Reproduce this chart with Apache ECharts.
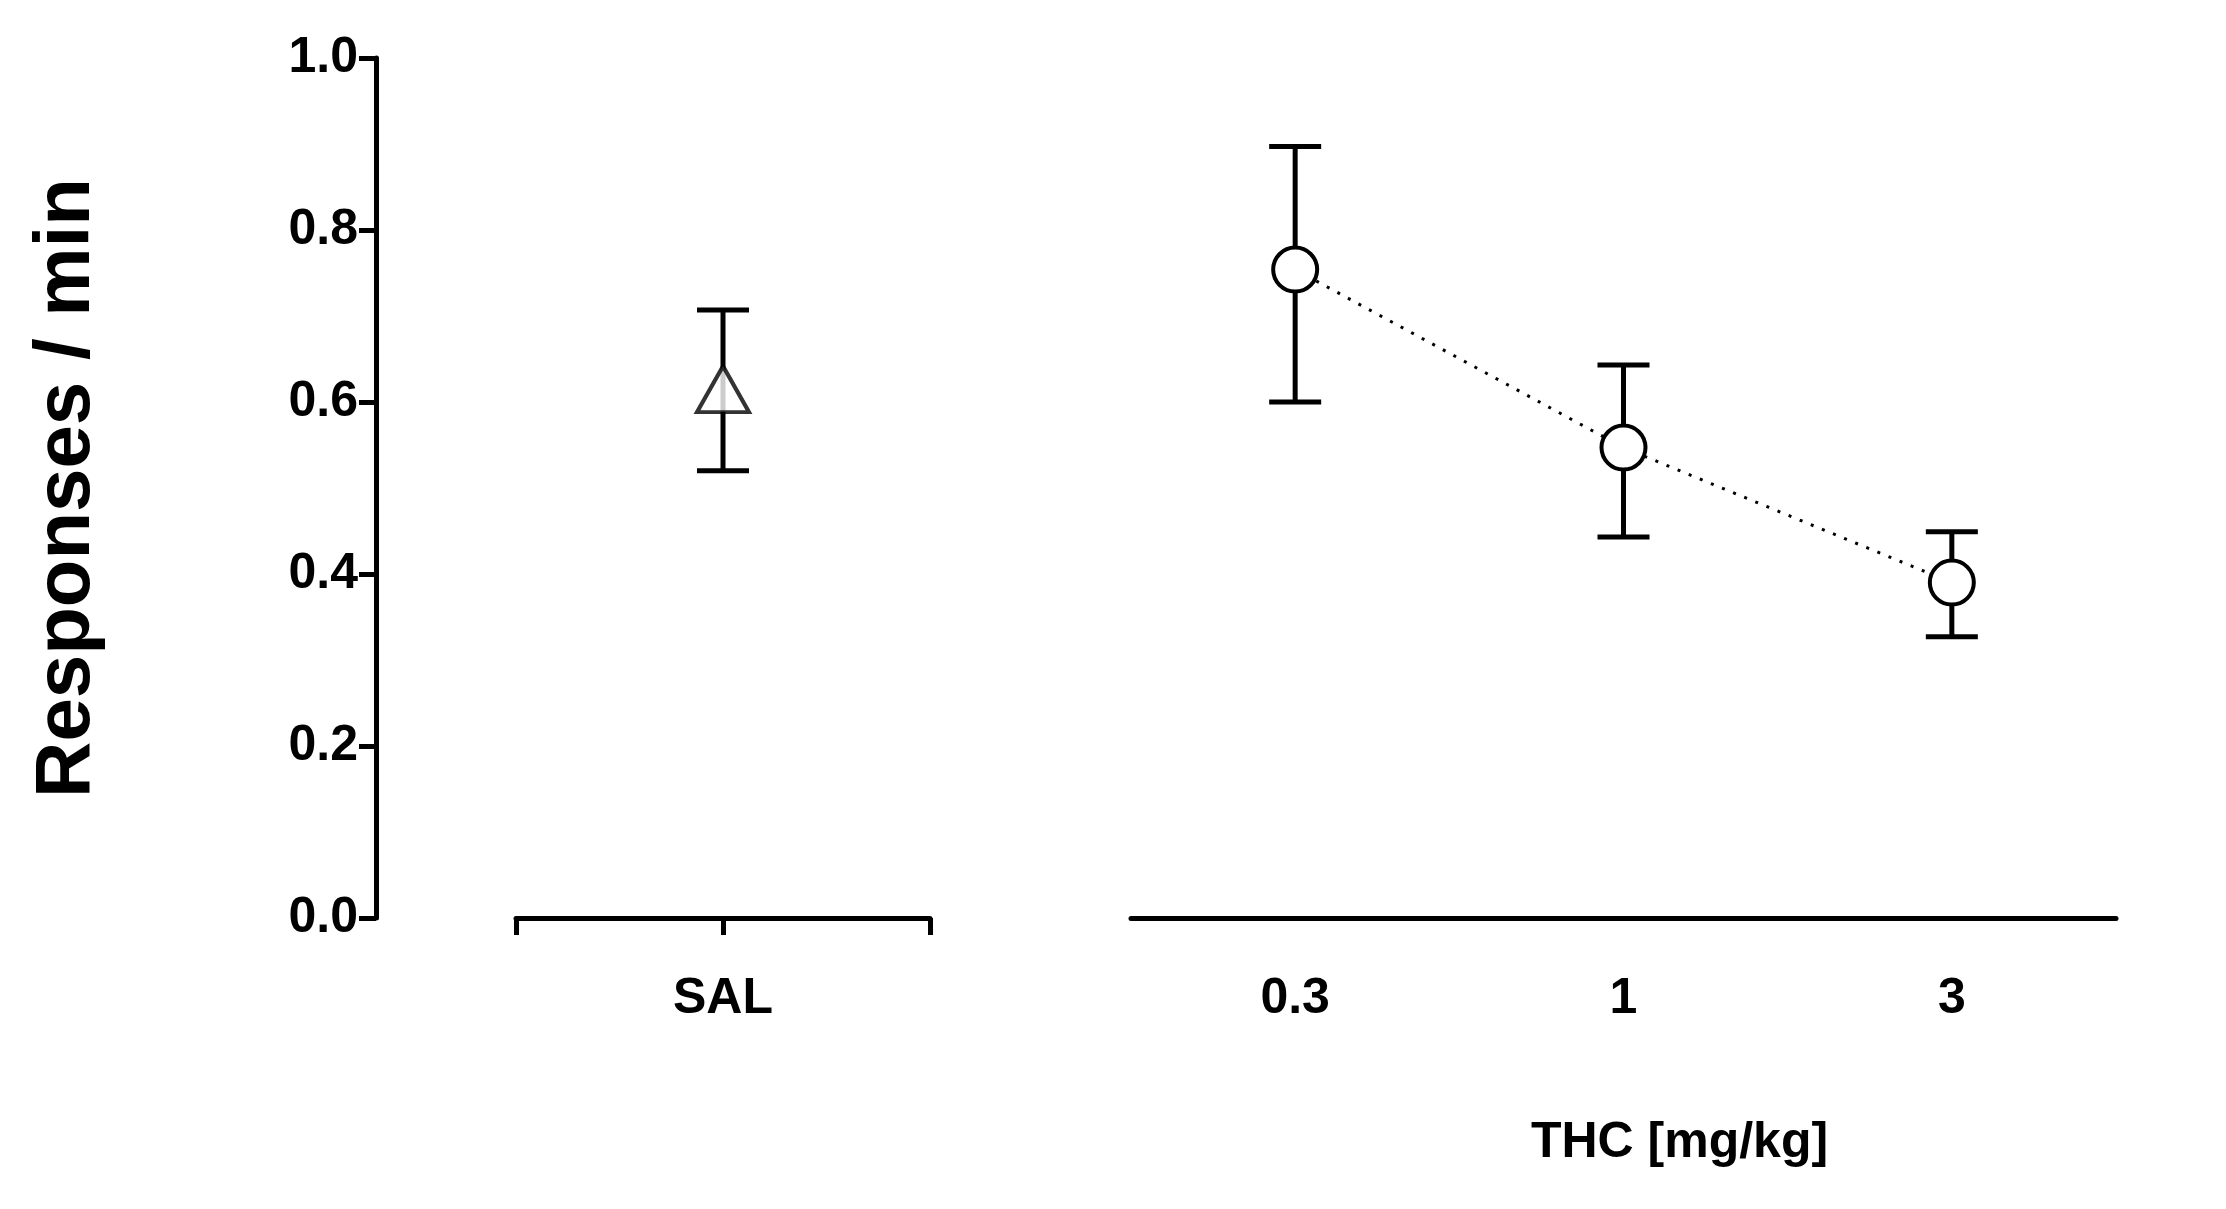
<!DOCTYPE html>
<html><head><meta charset="utf-8">
<script src="https://cdn.jsdelivr.net/npm/echarts@6/dist/echarts.min.js"></script>
<style>html,body{margin:0;background:#fff}#c{width:2226px;height:1209px}</style>
</head><body><div id="c"></div>
<script>
// data
const salLabel = 'SAL';
const salMean = 0.615, salLow = 0.52, salHigh = 0.707;
const doses = ['0.3', '1', '3'];
const thcMean = [0.754, 0.547, 0.39];
const thcLow = [0.60, 0.443, 0.327];
const thcHigh = [0.897, 0.643, 0.449];
const yTicks = ['0.0', '0.2', '0.4', '0.6', '0.8', '1.0'];

const font = 'Liberation Sans, Arial, sans-serif';
const lab = {color: '#000', fontSize: 50, fontWeight: 'bold', fontFamily: font};
const axLine = {show: true, onZero: false, lineStyle: {color: '#000', width: 5}};
const axTick = {show: true, length: 17, lineStyle: {color: '#000', width: 5}};

function errBar(params, api) {
  const x = api.value(0);
  const lo = api.coord([x, api.value(1)]);
  const hi = api.coord([x, api.value(2)]);
  const w = 26;
  const st = {stroke: '#000', lineWidth: 5};
  return {type: 'group', children: [
    {type: 'line', shape: {x1: lo[0], y1: lo[1], x2: hi[0], y2: hi[1]}, style: st},
    {type: 'line', shape: {x1: lo[0] - w, y1: lo[1], x2: lo[0] + w, y2: lo[1]}, style: st},
    {type: 'line', shape: {x1: hi[0] - w, y1: hi[1], x2: hi[0] + w, y2: hi[1]}, style: st}
  ]};
}

// dose positions on the right axis
const thcX = doses.map((d, i) => 1 + 2 * i);

const chart = echarts.init(document.getElementById('c'));
chart.setOption({
  backgroundColor: '#fff',
  animation: false,
  grid: [
    {left: 516, width: 414, top: 58, height: 860},
    {left: 1131, width: 985, top: 58, height: 860}
  ],
  xAxis: [
    {gridIndex: 0, type: 'value', min: 0, max: 2, interval: 1, axisLine: axLine, axisTick: axTick,
     splitLine: {show: false}, axisLabel: Object.assign({margin: 56, formatter: v => v === 1 ? salLabel : ''}, lab)},
    {gridIndex: 1, type: 'value', min: 0, max: 6, interval: 1, axisLine: axLine,
     axisTick: {show: false}, splitLine: {show: false},
     axisLabel: Object.assign({margin: 56, formatter: v => { const i = thcX.indexOf(v); return i >= 0 ? doses[i] : ''; }}, lab),
     name: 'THC [mg/kg]', nameLocation: 'middle', nameGap: 200,
     nameTextStyle: Object.assign({}, lab, {padding: [0, 0, 0, 112]})}
  ],
  yAxis: [
    {gridIndex: 0, type: 'value', min: 0, max: 1, interval: 0.2, offset: 140, axisLine: axLine, axisTick: axTick,
     splitLine: {show: false}, axisLabel: Object.assign({margin: 18, formatter: v => yTicks[Math.round(v * 5)]}, lab),
     name: 'Responses / min', nameLocation: 'middle', nameGap: 270,
     nameTextStyle: {color: '#000', fontSize: 78, fontWeight: 'bold', fontFamily: font}},
    {gridIndex: 1, type: 'value', min: 0, max: 1, show: false}
  ],
  series: [
    {type: 'custom', xAxisIndex: 0, yAxisIndex: 0, renderItem: errBar, data: [[1, salLow, salHigh]], z: 1},
    {type: 'scatter', xAxisIndex: 0, yAxisIndex: 0, symbol: 'triangle', symbolSize: [52, 46],
     itemStyle: {color: '#fff', borderColor: '#000', borderWidth: 4}, data: [[1, salMean]], z: 3},
    {type: 'custom', xAxisIndex: 1, yAxisIndex: 1, renderItem: errBar,
     data: thcX.map((x, i) => [x, thcLow[i], thcHigh[i]]), z: 1},
    {type: 'line', xAxisIndex: 1, yAxisIndex: 1, symbol: 'circle', symbolSize: 44, showSymbol: true,
     lineStyle: {color: '#000', width: 3, type: [3, 9]},
     itemStyle: {color: '#fff', borderColor: '#000', borderWidth: 4},
     data: thcX.map((x, i) => [x, thcMean[i]]), z: 3}
  ]
});
</script></body></html>
